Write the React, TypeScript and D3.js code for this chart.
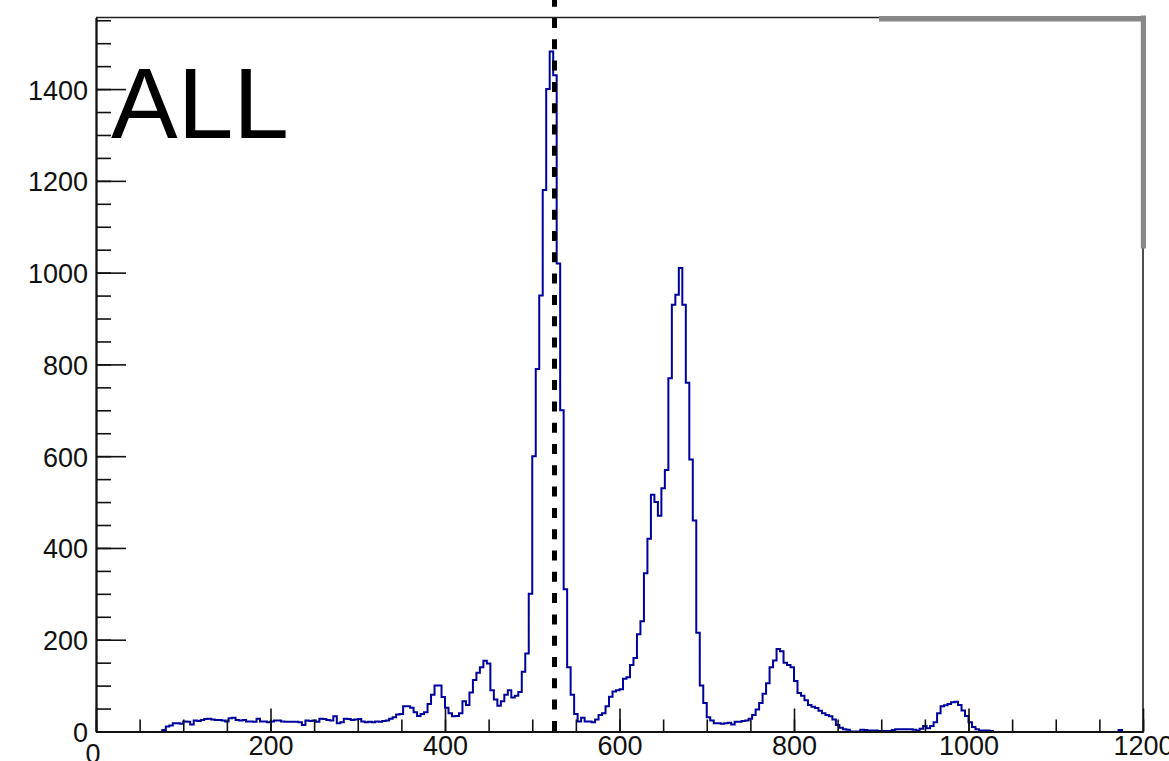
import React, { useEffect, useRef } from 'react';
import * as d3 from 'd3';

// histogram bins (4 units wide)
const binStart = 76;
const binWidth = 4;
const counts = [
  3, 11, 13, 18, 18, 17, 22, 21, 15, 24, 23, 25, 27, 28, 26, 25, 25, 24, 22, 29,
  30, 25, 24, 25, 22, 22, 21, 28, 22, 22, 20, 22, 24, 24, 22, 21, 21, 21, 21, 20,
  14, 24, 23, 24, 21, 28, 27, 25, 24, 33, 18, 20, 28, 27, 25, 26, 27, 22, 20, 21,
  20, 22, 21, 23, 24, 28, 31, 37, 38, 55, 55, 52, 42, 34, 38, 42, 60, 80, 100, 100,
  75, 52, 40, 33, 34, 40, 66, 58, 85, 112, 128, 140, 154, 148, 90, 70, 56, 66, 80, 90,
  74, 78, 86, 130, 170, 300, 600, 790, 950, 1180, 1400, 1482, 1430, 1020, 700, 310, 140, 80, 38, 22,
  30, 22, 22, 20, 26, 36, 40, 55, 76, 87, 90, 92, 115, 118, 145, 160, 212, 240, 345, 420,
  516, 500, 470, 530, 570, 770, 930, 952, 1010, 930, 760, 593, 460, 215, 100, 62, 31, 24, 18, 18,
  17, 18, 19, 15, 21, 21, 23, 24, 28, 36, 48, 62, 82, 105, 140, 155, 180, 175, 150, 145,
  140, 110, 84, 78, 68, 58, 54, 51, 45, 40, 36, 33, 26, 14, 8, 5, 4, 0, 0, 0,
  4, 3, 2, 2, 2, 1, 1, 1, 1, 3, 5, 5, 5, 5, 5, 4, 2, 6, 12, 7,
  12, 20, 40, 55, 57, 60, 64, 65, 58, 46, 34, 20, 10, 5, 2, 2, 2, 1,
];
const farBinStart = 1172;
const farCounts = [3];

const xTickValues = [0, 200, 400, 600, 800, 1000, 1200];
const yTickValues = [0, 200, 400, 600, 800, 1000, 1200, 1400];
const xDomain = [0, 1200];
const yDomain = [0, 1556];
const cutValue = 525.5;
const panelLabel = 'ALL';

const font = '"Liberation Sans", Arial, Helvetica, sans-serif';

const App = () => {
  const ref = useRef<SVGSVGElement | null>(null);

  useEffect(() => {
    const margin = { top: 17.5, right: 26, bottom: 29.5, left: 96 };
    const width = 1169;
    const height = 761;
    const chartRight = width - margin.right;
    const chartBottom = height - margin.bottom;

    const svg = d3.select(ref.current);
    svg.selectAll('*').remove();

    const x = d3.scaleLinear().domain(xDomain).range([margin.left, chartRight]);
    const y = d3.scaleLinear().domain(yDomain).range([chartBottom, margin.top]);

    const stepPoints = (start: number, values: number[]) => {
      const pts: [number, number][] = [[start, 0]];
      values.forEach((v, i) => pts.push([start + i * binWidth, v]));
      pts.push([start + values.length * binWidth, 0]);
      return pts;
    };

    const line = d3
      .line<[number, number]>()
      .x(d => x(d[0]))
      .y(d => y(d[1]))
      .curve(d3.curveStepAfter);

    // histogram outline
    [stepPoints(binStart, counts), stepPoints(farBinStart, farCounts)].forEach(pts => {
      svg.append('path')
        .attr('d', line(pts))
        .attr('fill', 'none')
        .attr('stroke', '#00009c')
        .attr('stroke-width', 2);
    });

    // dashed marker
    svg.append('line')
      .attr('x1', x(cutValue))
      .attr('x2', x(cutValue))
      .attr('y1', -3.3)
      .attr('y2', chartBottom)
      .attr('stroke', '#000')
      .attr('stroke-width', 5)
      .attr('stroke-dasharray', '10 11.3');

    // frame top / right
    svg.append('line')
      .attr('x1', margin.left).attr('x2', chartRight)
      .attr('y1', margin.top).attr('y2', margin.top)
      .attr('stroke', '#222').attr('stroke-width', 1.6);
    svg.append('line')
      .attr('x1', chartRight).attr('x2', chartRight)
      .attr('y1', margin.top).attr('y2', chartBottom)
      .attr('stroke', '#222').attr('stroke-width', 1.6);

    // grey box edge in the top right corner
    svg.append('rect')
      .attr('x', 879).attr('y', 16).attr('width', 267).attr('height', 5.5)
      .attr('fill', '#888');
    svg.append('rect')
      .attr('x', 1140.8).attr('y', 15.5).attr('width', 5.2).attr('height', 233)
      .attr('fill', '#888');

    const styleAxis = (g: d3.Selection<SVGGElement, unknown, null, undefined>) => {
      g.attr('font-family', font).attr('font-size', 27);
      g.selectAll('line').attr('stroke', '#111').attr('stroke-width', 1.6);
      g.selectAll('path').attr('stroke', '#111').attr('stroke-width', 1.8);
      g.selectAll('text').attr('fill', '#111');
    };

    // y axis: minor then major ticks, pointing inward
    svg.append('g')
      .attr('transform', `translate(${margin.left},0)`)
      .call(d3.axisLeft(y).tickValues(d3.range(0, 1551, 50)).tickSize(-15).tickSizeOuter(0).tickFormat(() => ''))
      .call(styleAxis);
    const yAxis = svg.append('g')
      .attr('transform', `translate(${margin.left},0)`)
      .call(d3.axisLeft(y).tickValues(yTickValues).tickSize(-30).tickSizeOuter(0).tickPadding(8).tickFormat(d3.format('d')))
      .call(styleAxis);
    yAxis.selectAll('text').attr('dy', '0.37em');

    // x axis
    svg.append('g')
      .attr('transform', `translate(0,${chartBottom})`)
      .call(d3.axisBottom(x).tickValues(d3.range(0, 1201, 50)).tickSize(-12).tickSizeOuter(0).tickFormat(() => ''))
      .call(styleAxis);
    const xAxis = svg.append('g')
      .attr('transform', `translate(0,${chartBottom})`)
      .call(d3.axisBottom(x).tickValues(xTickValues).tickSize(-23).tickSizeOuter(0).tickPadding(4.5).tickFormat(d3.format('d')))
      .call(styleAxis);
    xAxis.selectAll<SVGTextElement, number>('text')
      .filter(d => d === 0)
      .attr('x', -3.5)
      .attr('y', 12.5);

    // panel label
    svg.append('text')
      .attr('x', 111)
      .attr('y', 138)
      .attr('font-family', font)
      .attr('font-size', 100)
      .attr('fill', '#000')
      .text(panelLabel);
  }, []);

  return (
    <svg
      ref={ref}
      width={1169}
      height={761}
      style={{ position: 'absolute', left: 0, top: 0, background: '#fff' }}
    />
  );
};

export default App;
